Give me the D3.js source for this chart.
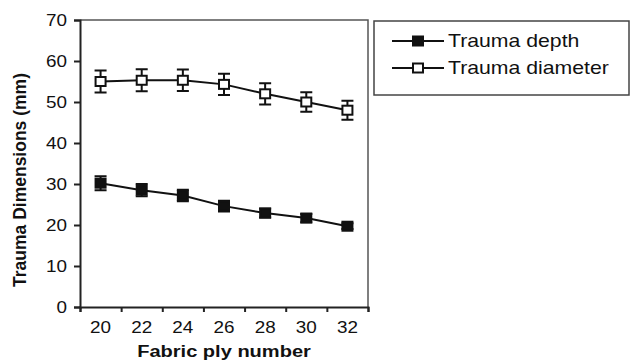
<!doctype html>
<html lang="en">
<head>
<meta charset="UTF-8">
<title>Trauma dimensions</title>
<script src="https://d3js.org/d3.v7.min.js"></script>
<style>
  body { margin: 0; background: #fff; }
  text { font-family: "Liberation Sans", Arial, sans-serif; fill: #111; }
</style>
</head>
<body>
<div id="chart-area"></div>
<script>
const plies = [20, 22, 24, 26, 28, 30, 32];
const depth = [30.2, 28.5, 27.2, 24.6, 22.9, 21.7, 19.7];
const depthErr = [1.7, 1.5, 1.4, 1.3, 1.1, 1.0, 0.7];
const diameter = [55.0, 55.3, 55.3, 54.3, 52.0, 50.0, 48.0];
const diameterErr = [2.7, 2.7, 2.6, 2.6, 2.6, 2.4, 2.3];
const yTicks = [0, 10, 20, 30, 40, 50, 60, 70];
const seriesNames = ['Trauma depth', 'Trauma diameter'];

const W = 632, H = 363;
const plotL = 80, plotR = 368, plotT = 20, plotB = 307;
const sx = 1.18; // the picture is a bit stretched wide

const svg = d3.select('#chart-area')
    .append('svg')
    .attr('width', W)
    .attr('height', H);

const x = d3.scaleBand()
    .domain(plies)
    .range([plotL, plotR]);

const y = d3.scaleLinear()
    .domain([0, 70])
    .range([plotB, plotT]);

// frame top + right
svg.append('path')
    .attr('d', `M${plotL},${plotT}H${plotR}V${plotB}`)
    .attr('fill', 'none')
    .attr('stroke', '#555')
    .attr('stroke-width', 1.5);

// y axis
const yAxis = svg.append('g')
    .attr('transform', `translate(${plotL},0)`)
    .call(d3.axisLeft(y).tickValues(yTicks).tickSize(6).tickPadding(0));
yAxis.select('.domain').attr('stroke', '#222').attr('stroke-width', 2);
yAxis.selectAll('.tick line').attr('stroke', '#222').attr('stroke-width', 2);
yAxis.selectAll('.tick text')
    .attr('x', 0).attr('dy', '0.36em')
    .attr('transform', `translate(-13,0) scale(${sx},1)`)
    .style('font-size', '16px');

// x axis: ticks at category boundaries, labels in the middle
const xb = d3.scaleLinear().domain([0, plies.length]).range([plotL, plotR]);
const xAxis = svg.append('g')
    .attr('transform', `translate(0,${plotB})`)
    .call(d3.axisBottom(xb).ticks(plies.length).tickSize(5).tickFormat(''));
xAxis.select('.domain').attr('stroke', '#222').attr('stroke-width', 2);
xAxis.selectAll('.tick line').attr('stroke', '#222').attr('stroke-width', 2);

svg.append('g').selectAll('text')
    .data(plies)
    .join('text')
    .attr('transform', d => `translate(${x(d) + x.bandwidth() / 2},${plotB + 20}) scale(${sx},1)`)
    .attr('text-anchor', 'middle')
    .attr('dy', '0.36em')
    .style('font-size', '16px')
    .text(d => d);

// axis titles
svg.append('text')
    .attr('transform', `translate(224,351) scale(${sx},1)`)
    .attr('text-anchor', 'middle')
    .attr('dy', '0.36em')
    .style('font-size', '17px')
    .style('font-weight', 'bold')
    .text('Fabric ply number');

svg.append('text')
    .attr('transform', `translate(20,180) rotate(-90)`)
    .attr('text-anchor', 'middle')
    .attr('dy', '0.36em')
    .style('font-size', '17.5px')
    .style('font-weight', 'bold')
    .text('Trauma Dimensions (mm)');

const cx = d => x(d) + x.bandwidth() / 2;
const series = [
    { name: seriesNames[0], vals: depth, err: depthErr, fill: '#111' },
    { name: seriesNames[1], vals: diameter, err: diameterErr, fill: '#fff' }
];

const line = d3.line()
    .x(d => cx(d[0]))
    .y(d => y(d[1]));

series.forEach(s => {
    const pts = plies.map((p, i) => [p, s.vals[i], s.err[i]]);
    const g = svg.append('g');

    // error bars
    g.selectAll('path.err')
        .data(pts)
        .join('path')
        .attr('class', 'err')
        .attr('d', d => {
            const x0 = cx(d[0]), y1 = y(d[1] + d[2]), y2 = y(d[1] - d[2]);
            return `M${x0 - 6},${y1}H${x0 + 6}M${x0},${y1}V${y2}M${x0 - 6},${y2}H${x0 + 6}`;
        })
        .attr('stroke', '#111')
        .attr('stroke-width', 2)
        .attr('fill', 'none');

    g.append('path')
        .attr('d', line(pts))
        .attr('fill', 'none')
        .attr('stroke', '#111')
        .attr('stroke-width', 2);

    g.selectAll('rect')
        .data(pts)
        .join('rect')
        .attr('x', d => cx(d[0]) - 5)
        .attr('y', d => y(d[1]) - 4.5)
        .attr('width', 10)
        .attr('height', 9)
        .attr('fill', s.fill)
        .attr('stroke', '#111')
        .attr('stroke-width', 2);
});

// legend
const lg = svg.append('g');
lg.append('rect')
    .attr('x', 374).attr('y', 21)
    .attr('width', 255).attr('height', 74)
    .attr('fill', '#fff')
    .attr('stroke', '#444')
    .attr('stroke-width', 1.5);

series.forEach((s, i) => {
    const ly = 41 + i * 27;
    lg.append('line')
        .attr('x1', 392).attr('x2', 444)
        .attr('y1', ly).attr('y2', ly)
        .attr('stroke', '#111').attr('stroke-width', 2);
    lg.append('rect')
        .attr('x', 413).attr('y', ly - 4.5)
        .attr('width', 10).attr('height', 9)
        .attr('fill', s.fill)
        .attr('stroke', '#111').attr('stroke-width', 2);
    lg.append('text')
        .attr('transform', `translate(448,${ly}) scale(${sx},1)`)
        .attr('dy', '0.36em')
        .style('font-size', '18px')
        .text(s.name);
});
</script>
</body>
</html>
